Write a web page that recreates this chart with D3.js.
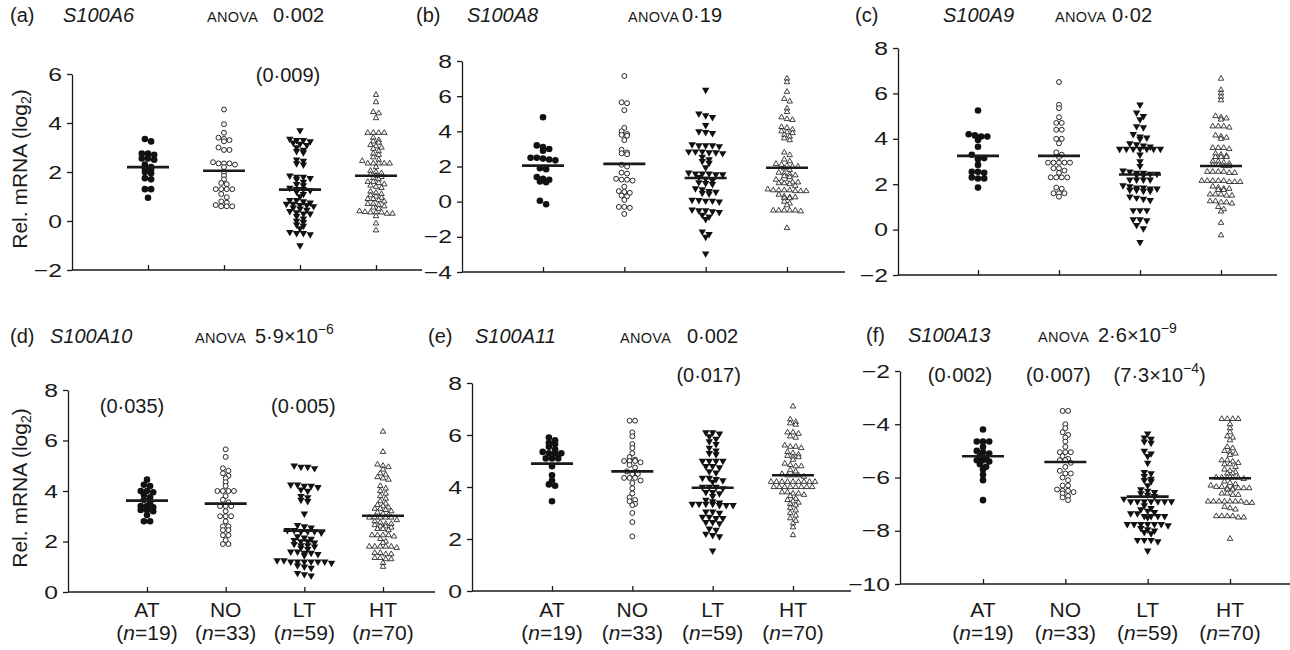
<!DOCTYPE html>
<html lang="en">
<head>
<meta charset="UTF-8" />
<title>S100 mRNA levels by group</title>
<style>
  html, body { margin: 0; padding: 0; background: #fff; }
  svg { display: block; font-family: "Liberation Sans", Arial, Helvetica, sans-serif; }
</style>
</head>
<body>
<svg id="chart" width="1290" height="650"></svg>
<script src="https://cdn.jsdelivr.net/npm/d3@7"></script>
<script>
// Groups on every x axis
const groups = ["AT", "NO", "LT", "HT"];
const groupN = [19, 33, 59, 70];

// Panel headings
const panelLetters = ["(a)", "(b)", "(c)", "(d)", "(e)", "(f)"];
const genes = ["S100A6", "S100A8", "S100A9", "S100A10", "S100A11", "S100A13"];
const anovaMain = ["0·002", "0·19", "0·02", "5·9×10", "0·002", "2·6×10"];
const anovaSup = ["", "", "", "−6", "", "−9"];

// y axes
const yDomains = [[-2, 6], [-4, 8], [-2, 8], [0, 8], [0, 8], [-10, -2]];
const yTicks = [
  [-2, 0, 2, 4, 6],
  [-4, -2, 0, 2, 4, 6, 8],
  [-2, 0, 2, 4, 6, 8],
  [0, 2, 4, 6, 8],
  [0, 2, 4, 6, 8],
  [-10, -8, -6, -4, -2]
];

// Group means (horizontal bars), per panel: AT, NO, LT, HT
const means = [
  [2.2, 2.05, 1.28, 1.85],
  [2.05, 2.15, 1.35, 1.93],
  [3.25, 3.25, 2.43, 2.8],
  [3.62, 3.5, 2.43, 3.02],
  [4.9, 4.6, 3.97, 4.45],
  [-5.2, -5.42, -6.72, -6.03]
];

// Pairwise p values written above groups
const notes = [
  [{ g: 2, text: "(0·009)" }],
  [],
  [],
  [{ g: 0, text: "(0·035)" }, { g: 2, text: "(0·005)" }],
  [{ g: 2, text: "(0·017)" }],
  [{ g: 0, text: "(0·002)" }, { g: 1, text: "(0·007)" }, { g: 2, text: "(7·3×10", sup: "−4", tail: ")" }]
];

// Relative mRNA (log2) per sample: [AT, NO, LT, HT]
const s100a6 = [
  [3.35, 3.25, 2.75, 2.75, 2.7, 2.55, 2.55, 2.5, 2.3, 2.2, 2.15, 2.1, 2.0, 1.95, 1.75, 1.7, 1.3, 1.3, 0.95],
  [4.55, 3.95, 3.6, 3.4, 3.35, 3.3, 3.25, 3.0, 2.9, 2.9, 2.4, 2.35, 2.35, 2.35, 2.3, 2.2, 2.0, 1.85, 1.7, 1.55,
   1.5, 1.3, 1.3, 1.3, 1.3, 1.1, 0.97, 0.8, 0.75, 0.6, 0.6, 0.6, 0.65],
  [3.7, 3.35, 3.3, 3.3, 3.25, 3.2, 3.15, 3.1, 3.0, 2.9, 2.85, 2.8, 2.5, 2.45, 2.35, 2.3, 1.85, 1.8, 1.8, 1.75,
   1.7, 1.6, 1.5, 1.45, 1.35, 1.3, 1.3, 1.25, 1.2, 1.1, 1.0, 0.85, 0.85, 0.8, 0.75, 0.7, 0.7, 0.65, 0.6, 0.55,
   0.5, 0.45, 0.4, 0.35, 0.3, 0.3, 0.2, 0.1, 0.0, -0.05, -0.15, -0.2, -0.3, -0.45, -0.5, -0.5, -0.55, -1.0, 0.65],
  [5.15, 4.85, 4.45, 4.4, 4.2, 3.6, 3.6, 3.6, 3.6, 3.4, 3.3, 3.25, 3.2, 3.1, 3.05, 3.0, 2.95, 2.85, 2.75, 2.7,
   2.6, 2.5, 2.45, 2.35, 2.35, 2.35, 2.35, 2.35, 2.2, 2.05, 2.0, 1.95, 1.9, 1.85, 1.8, 1.75, 1.7, 1.6, 1.6, 1.55,
   1.5, 1.45, 1.4, 1.35, 1.2, 1.15, 1.1, 1.05, 1.0, 0.95, 0.9, 0.9, 0.85, 0.8, 0.7, 0.7, 0.65, 0.6, 0.55, 0.5,
   0.4, 0.37, 0.35, 0.35, 0.35, 0.3, 0.3, 0.2, -0.1, -0.38]
];
const s100a8 = [
  [4.8, 3.2, 3.1, 3.0, 2.9, 2.5, 2.5, 2.45, 2.4, 2.35, 1.9, 1.85, 1.4, 1.3, 1.25, 1.15, 1.1, 0.05, -0.15],
  [7.15, 5.65, 5.6, 5.2, 4.2, 4.0, 3.85, 3.8, 3.75, 3.5, 2.95, 2.8, 2.75, 2.7, 2.1, 2.0, 1.65, 1.6, 1.3, 1.25,
   1.25, 1.2, 0.85, 0.6, 0.55, 0.5, 0.35, 0.3, 0.1, -0.3, -0.3, -0.35, -0.7],
  [6.35, 5.0, 4.9, 4.8, 4.35, 4.0, 3.95, 3.9, 3.25, 3.2, 3.2, 3.2, 3.15, 2.85, 2.85, 2.85, 2.8, 2.8, 2.75, 2.55,
   2.4, 2.3, 2.2, 1.95, 1.65, 1.6, 1.6, 1.6, 1.55, 1.55, 1.4, 1.3, 1.2, 1.1, 1.05, 1.0, 0.75, 0.7, 0.6, 0.55,
   0.5, 0.45, 0.1, 0.08, 0.05, 0.05, 0.0, -0.45, -0.5, -0.5, -0.55, -0.6, -0.75, -0.85, -1.0, -1.7, -1.85, -2.0, -2.95],
  [7.0, 6.8, 6.25, 5.85, 5.7, 5.3, 5.1, 4.8, 4.7, 4.65, 4.25, 4.2, 4.1, 4.0, 3.95, 3.9, 3.8, 3.7, 3.6, 3.5,
   2.8, 2.65, 2.15, 2.1, 2.05, 2.0, 2.0, 1.65, 1.6, 1.55, 1.5, 1.45, 1.4, 1.15, 1.1, 1.1, 1.1, 1.05, 1.05, 1.0,
   0.7, 0.65, 0.65, 0.65, 0.65, 0.6, 0.6, 0.6, 0.3, 0.25, 0.25, 0.2, 0.2, 0.0, -0.1, -0.2, -0.5, -0.5, -0.5, -0.5,
   -0.5, -0.55, -1.5, 1.8, 1.9, 2.3, 2.4, 1.25, 0.9, 0.4]
];
const s100a9 = [
  [5.25, 4.2, 4.15, 4.1, 4.1, 3.95, 3.65, 3.3, 3.15, 3.15, 3.1, 2.85, 2.55, 2.55, 2.5, 2.3, 2.25, 2.25, 1.85],
  [6.5, 5.5, 5.35, 4.95, 4.7, 4.7, 4.4, 4.4, 4.0, 4.0, 3.8, 3.4, 3.2, 2.95, 2.95, 2.95, 2.95, 2.95, 2.7, 2.7,
   2.5, 2.3, 2.3, 2.3, 2.3, 1.85, 1.8, 1.6, 1.6, 1.6, 1.45, 3.3, 2.6],
  [5.5, 5.15, 5.0, 4.85, 4.55, 4.5, 4.2, 4.1, 4.05, 4.0, 3.8, 3.75, 3.7, 3.65, 3.55, 3.55, 3.55, 3.55, 3.55, 3.55,
   3.55, 3.3, 3.0, 2.8, 2.6, 2.55, 2.5, 2.5, 2.45, 2.45, 2.4, 2.4, 2.2, 2.2, 2.2, 2.2, 1.95, 1.9, 1.85, 1.85,
   1.8, 1.8, 1.75, 1.75, 1.7, 1.7, 1.45, 1.4, 1.35, 1.3, 0.85, 0.85, 0.85, 0.45, 0.45, 0.4, 0.2, 0.05, -0.55],
  [6.65, 6.15, 6.0, 5.85, 5.7, 5.0, 4.95, 4.9, 4.85, 4.55, 4.55, 4.55, 4.5, 4.15, 4.1, 4.05, 4.0, 3.6, 3.6, 3.6,
   3.55, 3.35, 3.3, 3.25, 3.2, 3.2, 3.2, 3.0, 3.0, 2.95, 2.9, 2.85, 2.85, 2.8, 2.8, 2.55, 2.55, 2.55, 2.55, 2.5,
   2.5, 2.15, 2.15, 2.15, 2.15, 2.15, 2.1, 2.1, 2.1, 1.9, 1.85, 1.8, 1.8, 1.75, 1.75, 1.55, 1.55, 1.55, 1.5, 1.5,
   1.25, 1.25, 1.2, 1.2, 1.15, 1.0, 0.9, 0.8, 0.3, -0.25]
];
const s100a10 = [
  [4.45, 4.25, 4.2, 4.0, 4.0, 3.95, 3.85, 3.75, 3.65, 3.55, 3.4, 3.4, 3.35, 3.25, 3.25, 3.2, 3.05, 2.8, 2.8],
  [5.65, 5.35, 4.9, 4.8, 4.7, 4.6, 4.5, 4.35, 4.2, 4.0, 4.0, 4.0, 4.0, 3.8, 3.65, 3.4, 3.4, 3.4, 3.2, 3.0,
   3.0, 3.0, 2.8, 2.6, 2.6, 2.45, 2.45, 2.25, 2.25, 2.05, 1.9, 1.9, 3.55],
  [5.0, 4.95, 4.95, 4.9, 4.25, 4.25, 4.2, 4.2, 4.15, 4.05, 4.0, 3.8, 3.75, 3.65, 3.6, 3.1, 2.65, 2.6, 2.55, 2.45,
   2.45, 2.4, 2.4, 2.4, 2.35, 2.2, 2.15, 2.1, 2.05, 2.0, 2.0, 1.95, 1.9, 1.85, 1.85, 1.8, 1.75, 1.7, 1.6, 1.6,
   1.55, 1.55, 1.5, 1.45, 1.25, 1.25, 1.2, 1.2, 1.2, 1.2, 1.2, 1.2, 1.15, 1.05, 1.0, 0.95, 0.75, 0.7, 0.65],
  [6.35, 5.55, 5.05, 5.0, 4.95, 4.85, 4.7, 4.65, 4.55, 4.5, 4.45, 4.2, 4.1, 4.0, 3.9, 3.8, 3.5, 3.45, 3.4, 3.35,
   3.3, 3.3, 3.25, 3.2, 3.15, 3.1, 2.95, 2.95, 2.95, 2.95, 2.95, 2.75, 2.7, 2.7, 2.65, 2.6, 2.6, 2.55, 2.5, 2.5,
   2.45, 2.25, 2.25, 2.25, 2.25, 2.2, 1.8, 1.8, 1.8, 1.8, 1.8, 1.75, 1.55, 1.55, 1.5, 1.5, 1.35, 1.35, 1.3, 1.3,
   1.15, 1.0, 3.6, 3.7, 2.1, 2.0, 1.95, 3.05, 2.85, 2.8]
];
const s100a11 = [
  [5.9, 5.8, 5.7, 5.65, 5.55, 5.45, 5.35, 5.3, 5.3, 5.3, 5.1, 5.1, 5.1, 4.8, 4.45, 4.25, 4.1, 4.05, 3.45],
  [6.55, 6.55, 6.1, 5.95, 5.65, 5.5, 5.3, 5.15, 5.0, 5.0, 5.0, 4.95, 4.85, 4.75, 4.6, 4.5, 4.5, 4.35, 4.35, 4.35,
   4.25, 4.15, 3.95, 3.75, 3.6, 3.5, 3.45, 3.35, 3.3, 3.0, 2.65, 2.1, 5.05],
  [6.1, 6.1, 6.05, 5.95, 5.85, 5.75, 5.65, 5.5, 5.4, 5.3, 5.25, 5.0, 5.0, 5.0, 5.0, 4.8, 4.8, 4.75, 4.6, 4.55,
   4.35, 4.35, 4.3, 4.25, 4.2, 4.0, 4.0, 4.0, 3.95, 3.8, 3.8, 3.75, 3.5, 3.45, 3.4, 3.35, 3.35, 3.35, 3.35, 3.3,
   3.3, 3.3, 3.05, 3.05, 3.0, 2.85, 2.85, 2.8, 2.8, 2.65, 2.65, 2.6, 2.4, 2.35, 2.2, 2.15, 2.1, 1.55, 3.65],
  [7.1, 6.6, 6.5, 6.45, 6.4, 6.1, 6.1, 6.05, 5.95, 5.9, 5.6, 5.55, 5.55, 5.5, 5.35, 5.3, 5.25, 5.2, 5.15, 5.15,
   4.9, 4.85, 4.8, 4.8, 4.65, 4.6, 4.5, 4.45, 4.45, 4.45, 4.4, 4.2, 4.2, 4.2, 4.2, 4.2, 4.2, 4.2, 4.2, 4.2,
   4.0, 4.0, 4.0, 4.0, 4.0, 4.0, 4.0, 4.0, 3.8, 3.8, 3.75, 3.75, 3.7, 3.65, 3.5, 3.45, 3.4, 3.35, 3.3, 3.2,
   3.1, 3.0, 2.9, 2.8, 2.7, 2.6, 2.45, 2.15, 3.55, 5.05]
];
const s100a13 = [
  [-4.2, -4.65, -4.65, -4.65, -4.85, -5.0, -5.05, -5.1, -5.3, -5.35, -5.35, -5.4, -5.5, -5.6, -5.7, -5.9, -6.1, -6.85, -5.2],
  [-3.5, -3.5, -4.0, -4.15, -4.3, -4.4, -4.5, -4.65, -4.85, -5.05, -5.05, -5.05, -5.2, -5.35, -5.35, -5.45, -5.6, -5.75, -5.85, -5.85,
   -6.0, -6.1, -6.3, -6.3, -6.45, -6.5, -6.5, -6.55, -6.6, -6.7, -6.75, -6.85, -5.3],
  [-4.35, -4.5, -4.55, -4.65, -4.7, -5.0, -5.1, -5.2, -5.45, -5.8, -5.85, -5.95, -6.05, -6.1, -6.15, -6.45, -6.5, -6.55, -6.6, -6.65,
   -6.7, -6.9, -6.9, -6.9, -6.9, -6.9, -6.9, -6.9, -7.15, -7.2, -7.25, -7.3, -7.35, -7.35, -7.45, -7.45, -7.45, -7.45, -7.5, -7.75,
   -7.75, -7.75, -7.75, -7.75, -7.75, -7.8, -7.9, -7.95, -8.0, -8.05, -8.1, -8.35, -8.35, -8.35, -8.4, -8.75, -6.3, -6.8, -7.05],
  [-3.8, -3.8, -3.8, -3.8, -4.0, -4.15, -4.3, -4.45, -4.5, -4.6, -4.85, -4.9, -5.0, -5.05, -5.1, -5.15, -5.35, -5.35, -5.4, -5.45,
   -5.5, -5.5, -5.7, -5.75, -5.8, -5.85, -5.85, -6.0, -6.0, -6.0, -6.0, -6.0, -6.05, -6.15, -6.2, -6.25, -6.3, -6.35, -6.35, -6.4,
   -6.4, -6.4, -6.4, -6.4, -6.45, -6.45, -6.6, -6.6, -6.65, -6.65, -6.9, -6.9, -6.9, -6.9, -6.9, -6.9, -6.9, -6.95, -6.95, -7.1,
   -7.15, -7.2, -7.45, -7.45, -7.45, -7.45, -7.5, -7.5, -8.3, -5.6]
];
const panelValues = [s100a6, s100a8, s100a9, s100a10, s100a11, s100a13];

// Where each panel sits on the page (nx: "ANOVA" start, px: p value start)
const layout = [
  { ax: 72,  right: 422,  top: 74,  bot: 270, c0: 148, c1: 376,  lx: 10,  gx: 63,  nx: 207,  px: 273,  ty: 22,  noteY: 82,  noteDx: [-12] },
  { ax: 462, right: 845,  top: 61,  bot: 272, c0: 543, c1: 787,  lx: 416, gx: 467, nx: 628,  px: 682,  ty: 22,  noteY: 0,   noteDx: [] },
  { ax: 898, right: 1277, top: 48,  bot: 275, c0: 978, c1: 1221, lx: 855, gx: 943, nx: 1055, px: 1112, ty: 22,  noteY: 0,   noteDx: [] },
  { ax: 68,  right: 435,  top: 390, bot: 592, c0: 147, c1: 383,  lx: 10,  gx: 50,  nx: 195,  px: 255,  ty: 343, noteY: 413, noteDx: [-15, -1] },
  { ax: 472, right: 851,  top: 383, bot: 591, c0: 552, c1: 793,  lx: 428, gx: 475, nx: 620,  px: 687,  ty: 343, noteY: 382, noteDx: [-4] },
  { ax: 900, right: 1290, top: 371, bot: 584, c0: 983, c1: 1230, lx: 866, gx: 908, nx: 1038, px: 1098, ty: 342, noteY: 382, noteDx: [-23, -7, 12] }
];

// Marker look per group: AT filled circle, NO open circle, LT filled down-triangle, HT open up-triangle
const markStyle = [
  { type: d3.symbolCircle,   size: 34, fill: "#111", stroke: "none", sw: 0,   rot: 0,   dx: 6.2, rowH: 3.6 },
  { type: d3.symbolCircle,   size: 19, fill: "#fff", stroke: "#111", sw: 0.9, rot: 0,   dx: 5.5, rowH: 3.4 },
  { type: d3.symbolTriangle, size: 24, fill: "#111", stroke: "none", sw: 0,   rot: 180, dx: 6.8, rowH: 3.6 },
  { type: d3.symbolTriangle, size: 13, fill: "#fff", stroke: "#111", sw: 0.8, rot: 0,   dx: 5.5, rowH: 3.4 }
];

const INK = "#1a1a1a";
const TICK_STRETCH = 1.3; // the figure's axis numerals are wide
const svg = d3.select("#chart");

// Spread points that share a height into symmetric rows
function swarm(values, cx, y, dx, rowH) {
  const pts = values.map(v => ({ v, py: y(v) })).sort((a, b) => a.py - b.py);
  const rows = [];
  pts.forEach(p => {
    const row = rows[rows.length - 1];
    if (row && p.py - row[0].py < rowH) row.push(p);
    else rows.push([p]);
  });
  rows.forEach(row => row.forEach((p, i) => { p.px = cx + (i - (row.length - 1) / 2) * dx; }));
  return pts;
}

layout.forEach((L, k) => {
  const g = svg.append("g");
  const y = d3.scaleLinear().domain(yDomains[k]).range([L.bot, L.top]);
  const x = d3.scalePoint().domain(groups).range([L.c0, L.c1]);

  // heading
  g.append("text").attr("x", L.lx).attr("y", L.ty).attr("font-size", 20).attr("fill", INK).text(panelLetters[k]);
  g.append("text").attr("x", L.gx).attr("y", L.ty).attr("font-size", 20).attr("font-style", "italic")
    .attr("fill", INK).text(genes[k]);
  g.append("text").attr("x", L.nx).attr("y", L.ty).attr("font-size", 14.5).attr("letter-spacing", 0.3)
    .attr("fill", INK).text("ANOVA");
  const an = g.append("text").attr("x", L.px).attr("y", L.ty).attr("fill", INK).attr("font-size", 20);
  an.append("tspan").text(anovaMain[k]);
  if (anovaSup[k]) an.append("tspan").attr("font-size", 14).attr("dy", -9).text(anovaSup[k]);

  // y axis
  const yAxis = g.append("g").attr("transform", `translate(${L.ax},0)`)
    .call(d3.axisLeft(y).tickValues(yTicks[k]).tickSize(5).tickSizeOuter(0).tickFormat(d3.format("d")));
  yAxis.attr("font-family", null).attr("font-size", 19);
  yAxis.selectAll("path, line").attr("stroke", INK).attr("stroke-width", 1.3);
  yAxis.selectAll("text").attr("fill", INK)
    .attr("x", -10 / TICK_STRETCH)
    .attr("transform", `scale(${TICK_STRETCH},1)`);

  // x axis: a full-width base line with inward ticks at each group
  g.append("line").attr("x1", L.ax).attr("x2", L.right).attr("y1", L.bot).attr("y2", L.bot)
    .attr("stroke", INK).attr("stroke-width", 1.3);
  const xAxis = g.append("g").attr("transform", `translate(0,${L.bot})`)
    .call(d3.axisBottom(x).tickSize(-5).tickSizeOuter(0).tickFormat(""));
  xAxis.select(".domain").remove();
  xAxis.selectAll("line").attr("stroke", INK).attr("stroke-width", 1.3);

  // y label on the left column only
  if (k === 0 || k === 3) {
    const cy = (L.top + L.bot) / 2 - 3;
    const yl = g.append("text").attr("transform", `translate(27,${cy}) rotate(-90)`)
      .attr("text-anchor", "middle").attr("font-size", 21).attr("fill", INK);
    yl.append("tspan").text("Rel. mRNA (log");
    yl.append("tspan").attr("font-size", 14).attr("dy", 4).text("2");
    yl.append("tspan").attr("dy", -4).text(")");
  }

  // group labels on the bottom row
  if (k >= 3) {
    groups.forEach((grp, i) => {
      g.append("text").attr("x", x(grp)).attr("y", 617).attr("text-anchor", "middle")
        .attr("font-size", 21).attr("fill", INK).text(grp);
      const t = g.append("text").attr("x", x(grp)).attr("y", 640).attr("text-anchor", "middle")
        .attr("font-size", 21).attr("fill", INK);
      t.append("tspan").text("(");
      t.append("tspan").attr("font-style", "italic").text("n");
      t.append("tspan").text("=" + groupN[i] + ")");
    });
  }

  // points
  groups.forEach((grp, i) => {
    const st = markStyle[i];
    const sym = d3.symbol().type(st.type).size(st.size);
    const pts = swarm(panelValues[k][i], x(grp), y, st.dx, st.rowH);
    g.append("g").selectAll("path").data(pts).join("path")
      .attr("d", sym)
      .attr("transform", d => `translate(${d.px},${d.py}) rotate(${st.rot})`)
      .attr("fill", st.fill)
      .attr("stroke", st.stroke)
      .attr("stroke-width", st.sw);

    // mean bar
    g.append("line")
      .attr("x1", x(grp) - 21).attr("x2", x(grp) + 21)
      .attr("y1", y(means[k][i])).attr("y2", y(means[k][i]))
      .attr("stroke", INK).attr("stroke-width", 2.6);
  });

  // pairwise p values
  notes[k].forEach((n, j) => {
    const t = g.append("text").attr("x", x(groups[n.g]) + L.noteDx[j]).attr("y", L.noteY)
      .attr("text-anchor", "middle").attr("font-size", 20).attr("fill", INK);
    t.append("tspan").text(n.text);
    if (n.sup) {
      t.append("tspan").attr("font-size", 14).attr("dy", -9).text(n.sup);
      t.append("tspan").attr("dy", 9).text(n.tail);
    }
  });
});
</script>
</body>
</html>
